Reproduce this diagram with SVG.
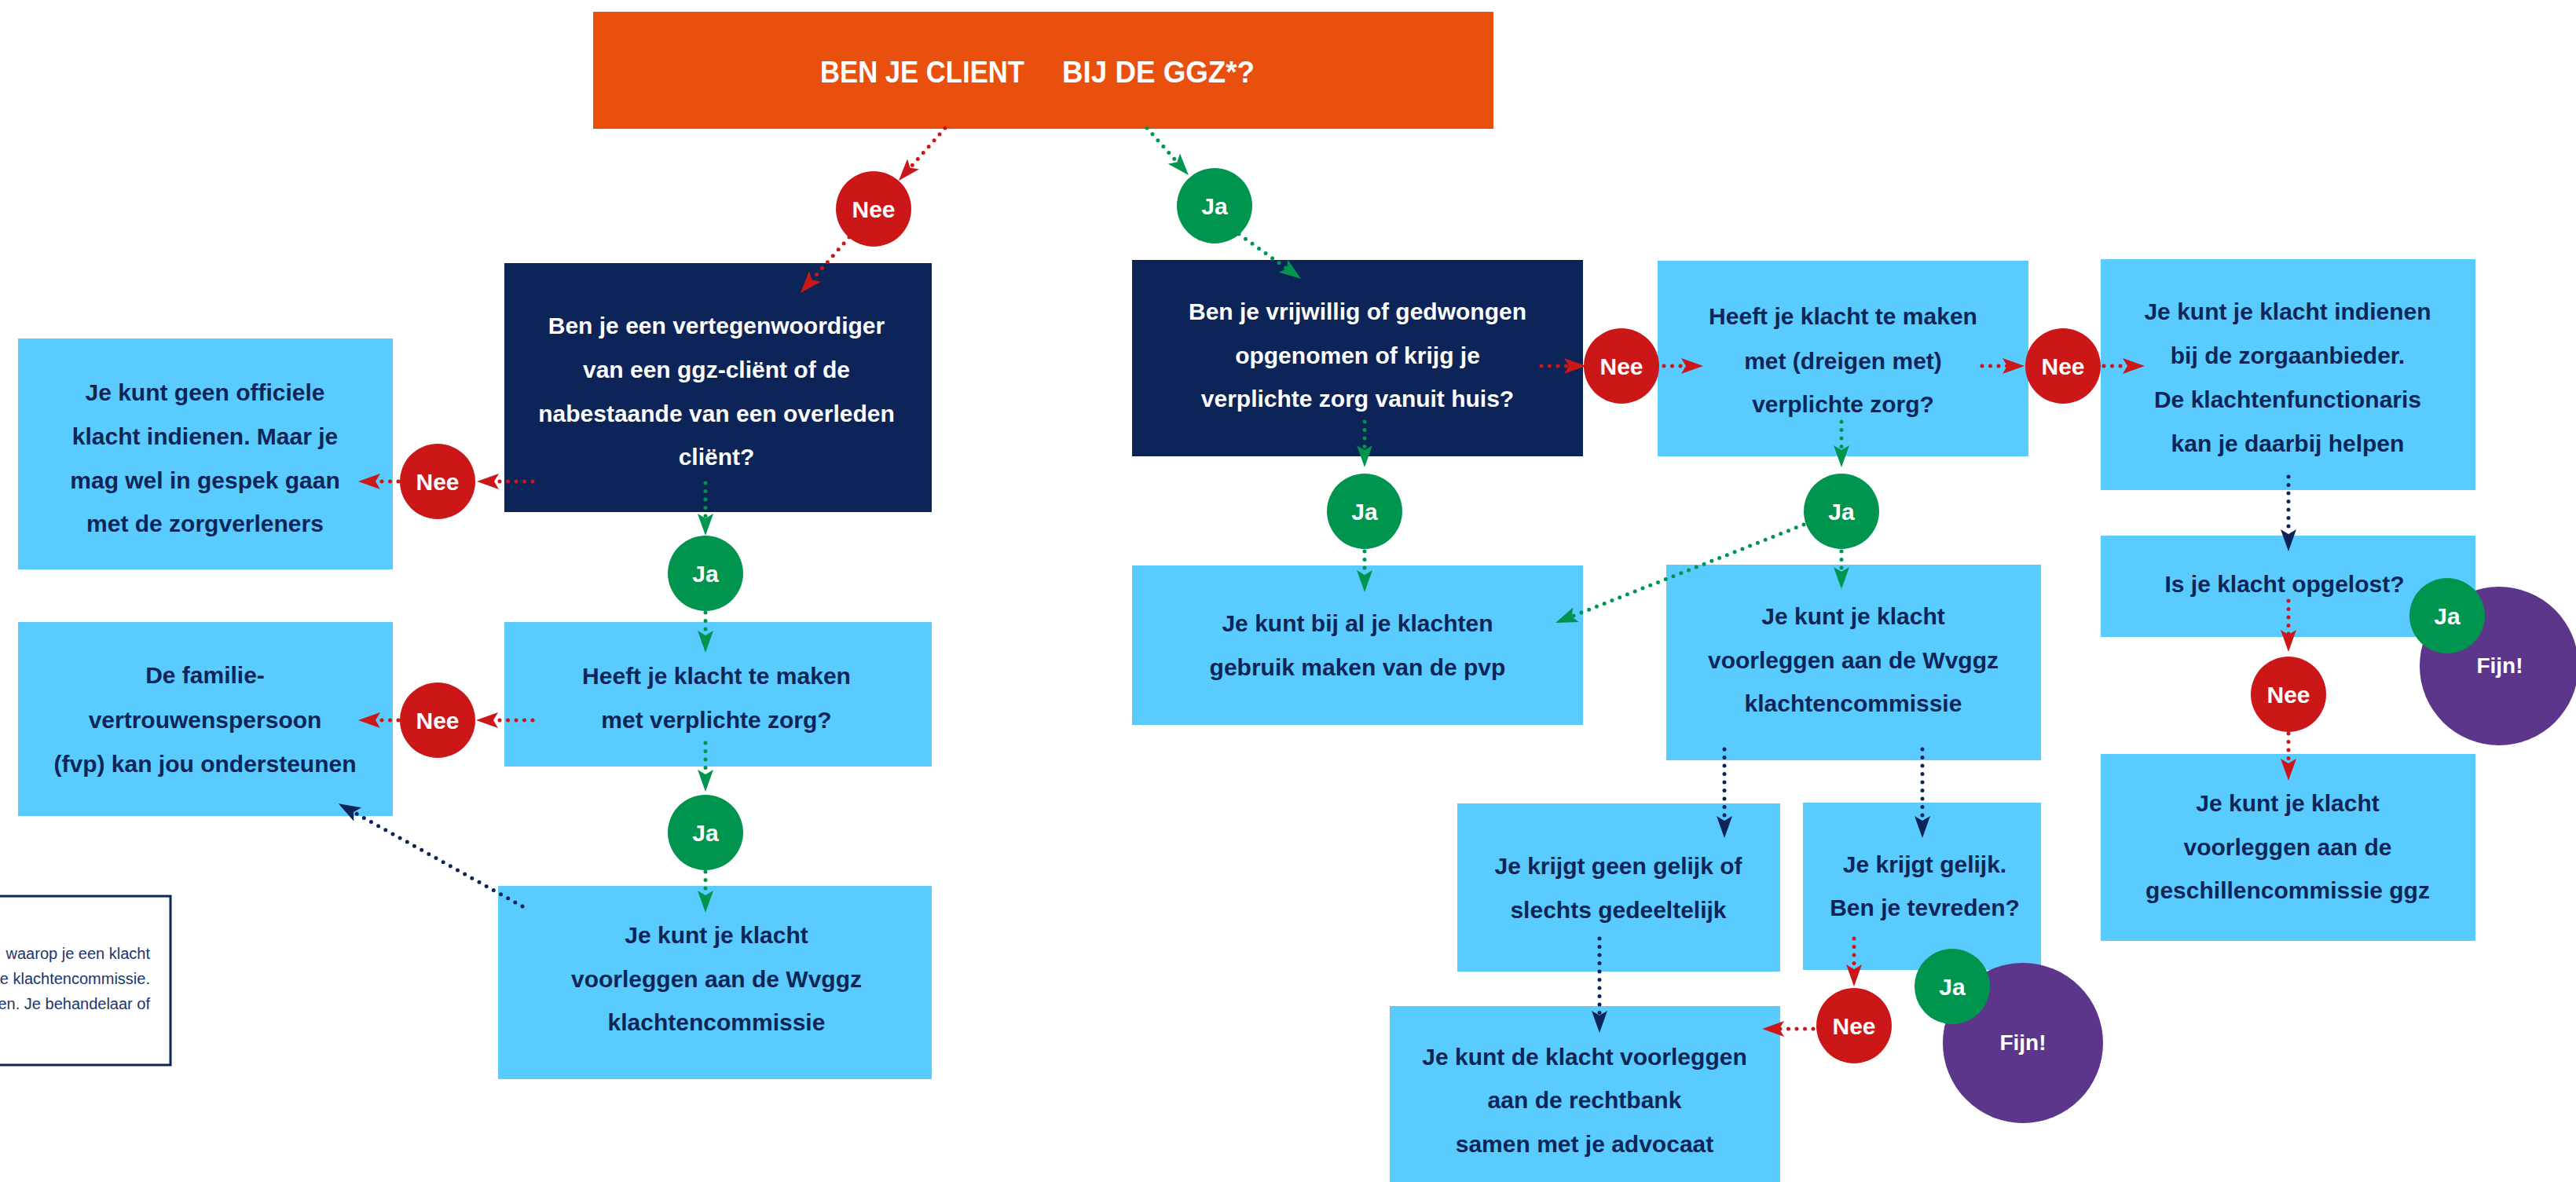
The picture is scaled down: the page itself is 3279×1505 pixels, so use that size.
<svg xmlns="http://www.w3.org/2000/svg" width="3279" height="1505" viewBox="0 0 3279 1505">
<defs>
<style>
.t{font-family:"Liberation Sans",Arial,sans-serif;font-weight:bold;font-size:30px;text-anchor:middle}
.dk{fill:#0E2557}
.wh{fill:#FFFFFF}
.lb{fill:#59CBFE}
.nv{fill:#0C2457}
.or{fill:#E9500E}
.red{fill:#CC1719}
.grn{fill:#00954F}
.pur{fill:#5B368B}
.c{fill:none;stroke-width:5;stroke-linecap:round;stroke-dasharray:0 10.5}
.cr{stroke:#CC1719;marker-end:url(#mr)}
.cg{stroke:#00954F;marker-end:url(#mg)}
.cn{stroke:#0C2457;marker-end:url(#mn)}
.note{font-family:"Liberation Sans",Arial,sans-serif;font-size:20px;fill:#1D3566;text-anchor:end}
</style>
<marker id="mr" viewBox="0 -10 28 20" refX="6" refY="0" markerWidth="28" markerHeight="20" markerUnits="userSpaceOnUse" orient="auto"><path d="M28,0 L0,-10 L6,0 L0,10 Z" fill="#CC1719"/></marker>
<marker id="mg" viewBox="0 -10 28 20" refX="6" refY="0" markerWidth="28" markerHeight="20" markerUnits="userSpaceOnUse" orient="auto"><path d="M28,0 L0,-10 L6,0 L0,10 Z" fill="#00954F"/></marker>
<marker id="mn" viewBox="0 -10 28 20" refX="6" refY="0" markerWidth="28" markerHeight="20" markerUnits="userSpaceOnUse" orient="auto"><path d="M28,0 L0,-10 L6,0 L0,10 Z" fill="#0C2457"/></marker>
</defs>
<rect width="3279" height="1505" fill="#FFFFFF"/>

<g id="title">
<rect class="or" x="755" y="15" width="1146" height="149"/>
<text class="t wh" style="font-size:39px;text-anchor:start" x="1044" y="105" textLength="260" lengthAdjust="spacingAndGlyphs">BEN JE CLIENT</text>
<text class="t wh" style="font-size:39px;text-anchor:start" x="1352" y="105" textLength="245" lengthAdjust="spacingAndGlyphs">BIJ DE GGZ*?</text>
</g>

<g id="box-vertegenwoordiger">
<rect class="nv" x="642" y="335" width="544" height="317"/>
<text class="t wh"><tspan x="912" y="425">Ben je een vertegenwoordiger</tspan><tspan x="912" y="481">van een ggz-cliënt of de</tspan><tspan x="912" y="537">nabestaande van een overleden</tspan><tspan x="912" y="592">cliënt?</tspan></text>
</g>

<g id="box-geen-officiele">
<rect class="lb" x="23" y="431" width="477" height="294"/>
<text class="t dk"><tspan x="261" y="510">Je kunt geen officiele</tspan><tspan x="261" y="566">klacht indienen. Maar je</tspan><tspan x="261" y="622">mag wel in gespek gaan</tspan><tspan x="261" y="677">met de zorgverleners</tspan></text>
</g>

<g id="box-verplichte-zorg-links">
<rect class="lb" x="642" y="792" width="544" height="184"/>
<text class="t dk"><tspan x="912" y="871">Heeft je klacht te maken</tspan><tspan x="912" y="927">met verplichte zorg?</tspan></text>
</g>

<g id="box-fvp">
<rect class="lb" x="23" y="792" width="477" height="247"/>
<text class="t dk"><tspan x="261" y="870">De familie-</tspan><tspan x="261" y="927">vertrouwenspersoon</tspan><tspan x="261" y="983">(fvp) kan jou ondersteunen</tspan></text>
</g>

<g id="box-wvggz-links">
<rect class="lb" x="634" y="1128" width="552" height="246"/>
<text class="t dk"><tspan x="912" y="1201">Je kunt je klacht</tspan><tspan x="912" y="1257">voorleggen aan de Wvggz</tspan><tspan x="912" y="1312">klachtencommissie</tspan></text>
</g>

<g id="note">
<rect x="-20" y="1141" width="237" height="215" fill="#FFFFFF" stroke="#0C2457" stroke-width="3"/>
<text class="note"><tspan x="191" y="1221">waarop je een klacht</tspan><tspan x="191" y="1253">e klachtencommissie.</tspan><tspan x="191" y="1285">en. Je behandelaar of</tspan></text>
</g>

<g id="box-vrijwillig">
<rect class="nv" x="1441" y="331" width="574" height="250"/>
<text class="t wh"><tspan x="1728" y="407">Ben je vrijwillig of gedwongen</tspan><tspan x="1728" y="463">opgenomen of krijg je</tspan><tspan x="1728" y="518">verplichte zorg vanuit huis?</tspan></text>
</g>

<g id="box-pvp">
<rect class="lb" x="1441" y="720" width="574" height="203"/>
<text class="t dk"><tspan x="1728" y="804">Je kunt bij al je klachten</tspan><tspan x="1728" y="860">gebruik maken van de pvp</tspan></text>
</g>

<g id="box-dreigen">
<rect class="lb" x="2110" y="332" width="472" height="249"/>
<text class="t dk"><tspan x="2346" y="413">Heeft je klacht te maken</tspan><tspan x="2346" y="470">met (dreigen met)</tspan><tspan x="2346" y="525">verplichte zorg?</tspan></text>
</g>

<g id="box-zorgaanbieder">
<rect class="lb" x="2674" y="330" width="477" height="294"/>
<text class="t dk"><tspan x="2912" y="407">Je kunt je klacht indienen</tspan><tspan x="2912" y="463">bij de zorgaanbieder.</tspan><tspan x="2912" y="519">De klachtenfunctionaris</tspan><tspan x="2912" y="575">kan je daarbij helpen</tspan></text>
</g>

<g id="box-opgelost">
<rect class="lb" x="2674" y="682" width="477" height="129"/>
<text class="t dk"><tspan x="2908" y="754">Is je klacht opgelost?</tspan></text>
</g>

<g id="box-geschillencommissie">
<rect class="lb" x="2674" y="960" width="477" height="238"/>
<text class="t dk"><tspan x="2912" y="1033">Je kunt je klacht</tspan><tspan x="2912" y="1089">voorleggen aan de</tspan><tspan x="2912" y="1144">geschillencommissie ggz</tspan></text>
</g>

<g id="box-wvggz-rechts">
<rect class="lb" x="2121" y="719" width="477" height="249"/>
<text class="t dk"><tspan x="2359" y="795">Je kunt je klacht</tspan><tspan x="2359" y="851">voorleggen aan de Wvggz</tspan><tspan x="2359" y="906">klachtencommissie</tspan></text>
</g>

<g id="box-geen-gelijk">
<rect class="lb" x="1855" y="1023" width="411" height="214"/>
<text class="t dk"><tspan x="2060" y="1113">Je krijgt geen gelijk of</tspan><tspan x="2060" y="1169">slechts gedeeltelijk</tspan></text>
</g>

<g id="box-gelijk">
<rect class="lb" x="2295" y="1022" width="303" height="213"/>
<text class="t dk"><tspan x="2450" y="1111">Je krijgt gelijk.</tspan><tspan x="2450" y="1166">Ben je tevreden?</tspan></text>
</g>

<g id="box-rechtbank">
<rect class="lb" x="1769" y="1281" width="497" height="224"/>
<text class="t dk"><tspan x="2017" y="1356">Je kunt de klacht voorleggen</tspan><tspan x="2017" y="1411">aan de rechtbank</tspan><tspan x="2017" y="1467">samen met je advocaat</tspan></text>
</g>

<g id="connectors">
<path class="c cr" d="M1203,163 L1158.5,213.5"/>
<path class="c cr" d="M1081,302 L1033.5,356.4"/>
<path class="c cg" d="M1460,163 L1498.4,206.5"/>
<path class="c cg" d="M1577,298 L1638.2,342.1"/>
<path class="c cr" d="M678,613 L629,613"/>
<path class="c cr" d="M507,613 L478,613"/>
<path class="c cg" d="M898,615 L898,660"/>
<path class="c cg" d="M898,780 L898,809"/>
<path class="c cr" d="M678,917 L628,917"/>
<path class="c cr" d="M507,917 L478,917"/>
<path class="c cg" d="M898,946 L898,986"/>
<path class="c cg" d="M898,1110 L898,1140"/>
<path class="c cn" d="M665,1154 L450,1034"/>
<path class="c cr" d="M1962,466 L1997,466"/>
<path class="c cr" d="M2118,466 L2146,466"/>
<path class="c cg" d="M1737,537 L1737,573"/>
<path class="c cg" d="M1737,702 L1737,732"/>
<path class="c cr" d="M2523,466 L2555,466"/>
<path class="c cr" d="M2678,466 L2708,466"/>
<path class="c cg" d="M2344,537 L2344,573"/>
<path class="c cg" d="M2344,702 L2344,728"/>
<path class="c cg" d="M2296,668 L2000.5,784.9"/>
<path class="c cn" d="M2913,607 L2913,680"/>
<path class="c cr" d="M2913,765 L2913,808"/>
<path class="c cr" d="M2913,934 L2913,972"/>
<path class="c cn" d="M2195,954 L2195,1045"/>
<path class="c cn" d="M2447,954 L2447,1045"/>
<path class="c cr" d="M2360,1195 L2360,1234"/>
<path class="c cr" d="M2308,1310 L2265,1310"/>
<path class="c cn" d="M2036,1195 L2036,1293"/>
</g>

<g id="nee-top"><circle class="red" cx="1112" cy="266" r="48"/><text class="t wh" x="1112" y="277">Nee</text></g>
<g id="ja-top"><circle class="grn" cx="1546" cy="262" r="48"/><text class="t wh" x="1546" y="273">Ja</text></g>
<g id="nee-vertegenwoordiger"><circle class="red" cx="557" cy="613" r="48"/><text class="t wh" x="557" y="624">Nee</text></g>
<g id="ja-vertegenwoordiger"><circle class="grn" cx="898" cy="730" r="48"/><text class="t wh" x="898" y="741">Ja</text></g>
<g id="nee-verplicht-links"><circle class="red" cx="557" cy="917" r="48"/><text class="t wh" x="557" y="928">Nee</text></g>
<g id="ja-verplicht-links"><circle class="grn" cx="898" cy="1060" r="48"/><text class="t wh" x="898" y="1071">Ja</text></g>
<g id="nee-vrijwillig"><circle class="red" cx="2064" cy="466" r="48"/><text class="t wh" x="2064" y="477">Nee</text></g>
<g id="ja-vrijwillig"><circle class="grn" cx="1737" cy="651" r="48"/><text class="t wh" x="1737" y="662">Ja</text></g>
<g id="nee-dreigen"><circle class="red" cx="2626" cy="466" r="48"/><text class="t wh" x="2626" y="477">Nee</text></g>
<g id="ja-dreigen"><circle class="grn" cx="2344" cy="651" r="48"/><text class="t wh" x="2344" y="662">Ja</text></g>
<g id="nee-opgelost"><circle class="red" cx="2913" cy="884" r="48"/><text class="t wh" x="2913" y="895">Nee</text></g>
<g id="fijn-opgelost"><circle class="pur" cx="3181" cy="848" r="101"/><text class="t wh" style="font-size:28px" x="3182" y="857">Fijn!</text></g>
<g id="ja-opgelost"><circle class="grn" cx="3115" cy="784" r="48"/><text class="t wh" x="3115" y="795">Ja</text></g>
<g id="nee-tevreden"><circle class="red" cx="2360" cy="1306" r="48"/><text class="t wh" x="2360" y="1317">Nee</text></g>
<g id="fijn-tevreden"><circle class="pur" cx="2575" cy="1328" r="102"/><text class="t wh" style="font-size:28px" x="2575" y="1337">Fijn!</text></g>
<g id="ja-tevreden"><circle class="grn" cx="2485" cy="1256" r="48"/><text class="t wh" x="2485" y="1267">Ja</text></g>
</svg>
